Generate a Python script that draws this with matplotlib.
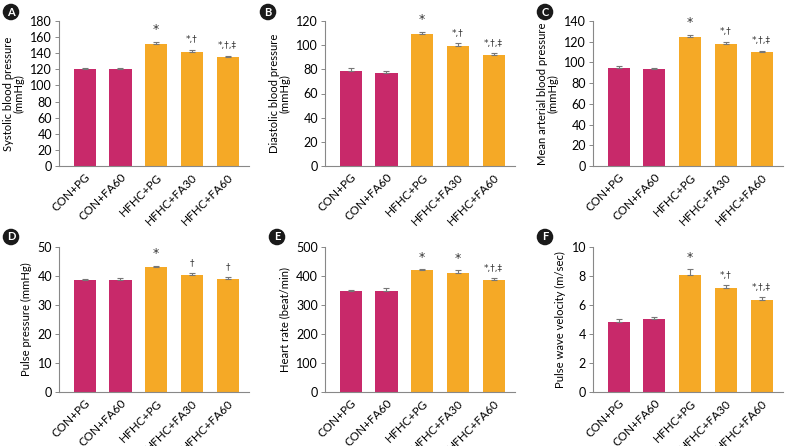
import matplotlib.pyplot as plt
import numpy as np

groups = ['CON+PG', 'CON+FA60', 'HFHC+PG', 'HFHC+FA30', 'HFHC+FA60']

sbp = [121, 121, 152, 142, 135]
sbp_err = [1.2, 1.2, 2.0, 2.0, 2.0]
dbp = [79, 77, 109, 99, 92]
dbp_err = [1.8, 1.8, 2.0, 2.5, 1.2]
map_ = [95, 94, 125, 118, 110]
map_err = [1.2, 1.0, 1.8, 1.6, 1.0]
pp = [38.5, 38.5, 43.1, 40.2, 39.0]
pp_err = [0.4, 0.7, 0.4, 0.8, 0.6]
hr = [348, 347, 420, 409, 385]
hr_err = [3, 10, 3, 10, 7]
pwv = [4.85, 5.05, 8.05, 7.2, 6.35]
pwv_err = [0.18, 0.12, 0.4, 0.15, 0.18]

marks_a = ['', '', '*', '*,\u2020', '*,\u2020,\u2021']
marks_d = ['', '', '*', '\u2020', '\u2020']
marks_e = ['', '', '*', '*', '*,\u2020,\u2021']

panels = [
    ('A', sbp, sbp_err, 180, 20, 'Systolic blood pressure\n(mmHg)', marks_a),
    ('B', dbp, dbp_err, 120, 20, 'Diastolic blood pressure\n(mmHg)', marks_a),
    ('C', map_, map_err, 140, 20, 'Mean arterial blood pressure\n(mmHg)', marks_a),
    ('D', pp, pp_err, 50, 10, 'Pulse pressure (mmHg)', marks_d),
    ('E', hr, hr_err, 500, 100, 'Heart rate (beat/min)', marks_e),
    ('F', pwv, pwv_err, 10, 2, 'Pulse wave velocity (m/sec)', marks_a),
]

colors = ['#C8296A', '#C8296A', '#F5A926', '#F5A926', '#F5A926']

plt.rcParams['font.family'] = ['Lato', 'DejaVu Sans']

fig = plt.figure(figsize=(7.87, 4.46), dpi=100)
W, H = 787, 446
lefts = [59, 325, 593]
tops = [21, 247]
ax_w = 190
ax_h = 145
circ = [(11, 12), (268, 12), (545, 12), (11, 237), (277, 237), (545, 237)]

x = np.arange(len(groups))
for i, (lab, vals, err, ymax, step, ylab, marks) in enumerate(panels):
    r, c = divmod(i, 3)
    ax = fig.add_axes([lefts[c] / W, 1 - (tops[r] + ax_h) / H, ax_w / W, ax_h / H])
    ax.bar(x, vals, width=0.62, color=colors, zorder=2)
    ax.errorbar(x, vals, yerr=[np.zeros(len(err)), err], fmt='none',
                ecolor='#777777', elinewidth=0.8, capsize=2.2, capthick=0.8, zorder=3)
    for xi, v, e, m in zip(x, vals, err, marks):
        if m:
            fs = 9 if m == '*' else 6.5
            ax.text(xi, v + e + ymax * 0.04, m, ha='center', va='bottom',
                    fontsize=fs, color='#333333', family=['DejaVu Sans'])
    ax.set_xlim(-0.72, 4.6)
    ax.set_ylim(0, ymax)
    ax.set_yticks(np.arange(0, ymax + 1, step))
    ax.set_xticks(x)
    ax.set_xticklabels(groups, rotation=45, ha='right', rotation_mode='anchor', fontsize=8.5)
    ax.tick_params(axis='x', length=0, pad=4)
    ax.tick_params(axis='y', length=3, width=0.7, labelsize=9, pad=2, color='#888888')
    for s in ['top', 'right']:
        ax.spines[s].set_visible(False)
    for s in ['left', 'bottom']:
        ax.spines[s].set_color('#888888')
        ax.spines[s].set_linewidth(0.8)
    ax.set_ylabel(ylab, fontsize=8.1, linespacing=1.0, labelpad=4)
    cx, cy = circ[i]
    fig.text(cx / W, 1 - cy / H, lab, ha='center', va='center', fontsize=8,
             fontweight='bold', color='white',
             bbox=dict(boxstyle='circle,pad=0.25', fc='#1a1a1a', ec='none'))

fig.savefig('out.png', dpi=100)
